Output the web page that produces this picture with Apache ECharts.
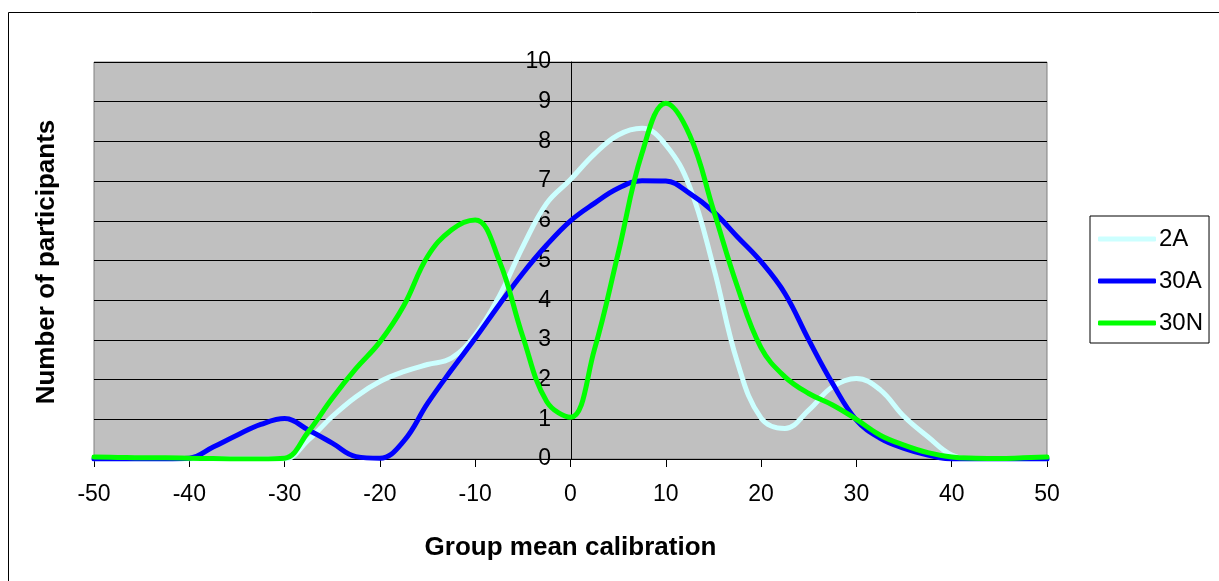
<!DOCTYPE html>
<html>
<head>
<meta charset="utf-8">
<script src="https://cdn.jsdelivr.net/npm/echarts@6/dist/echarts.min.js"></script>
<style>html,body{margin:0;padding:0;background:#fff}#c{width:1219px;height:581px}</style>
</head>
<body>
<div id="c"></div>
<script>
const calibration = [-50,-47.5,-45,-42.5,-40,-37.5,-35,-32.5,-30,-27.5,-25,-22.5,-20,-17.5,-15,-12.5,-10,-7.5,-5,-2.5,0,2.5,5,7.5,10,12.5,15,17.5,20,22.5,25,27.5,30,32.5,35,37.5,40,42.5,45,47.5,50];
const s2A  = [0,0,0,0,0,0,0,0,0,0.48,1.07,1.57,1.95,2.2,2.38,2.54,3.12,4.09,5.35,6.44,7.04,7.68,8.16,8.33,7.91,6.86,4.84,2.45,1.03,0.77,1.23,1.82,2.03,1.74,1.07,0.56,0.1,0,0,0,0];
const s30A = [0,0,0,0,0.02,0.3,0.6,0.87,1.02,0.73,0.4,0.06,0.02,0.45,1.4,2.24,3.04,3.88,4.68,5.39,6.0,6.44,6.82,7.01,7.0,6.69,6.23,5.6,4.97,4.17,3.0,1.9,0.98,0.52,0.27,0.1,0,0,0,0,0];
const s30N = [0.05,0.04,0.03,0.03,0.02,0.01,0,0,0.02,0.69,1.53,2.28,2.95,3.86,5.1,5.77,6.02,5.01,3.08,1.45,1.05,2.75,5.18,7.7,8.96,8.16,6.27,4.35,2.8,2.07,1.65,1.36,1.0,0.6,0.35,0.16,0.05,0.02,0.01,0.03,0.05];
const seriesNames = ['2A','30A','30N'];
const seriesColors = ['#CCFFFF','#0000FF','#00FF00'];
const seriesValues = [s2A, s30A, s30N];

const chart = echarts.init(document.getElementById('c'), null, {renderer:'canvas'});
const font = 'Liberation Sans, Arial, sans-serif';
chart.setOption({
  animation: false,
  backgroundColor: '#fff',
  graphic: [
    {type: 'rect', left: 6, top: 10, z: -10,
     shape: {x: 0, y: 0, width: 1211, height: 569},
     style: {fill: 'none', stroke: '#000', lineWidth: 1}},
    {type: 'text', x: 47, y: 262, rotation: Math.PI/2,
     style: {text: 'Number of participants', font: 'bold 26px ' + font, fill: '#000', align: 'center', verticalAlign: 'middle'}}
  ],
  grid: {left: 94, right: 172, top: 62, bottom: 122, show: true, backgroundColor: '#C0C0C0', borderColor: '#808080', borderWidth: 1},
  legend: {
    orient: 'vertical', left: 1090, top: 216,
    data: seriesNames,
    itemWidth: 58, itemHeight: 5, itemGap: 18,
    icon: 'roundRect',
    padding: [11, 6, 8, 8],
    borderColor: '#000', borderWidth: 1, backgroundColor: '#fff',
    textStyle: {fontFamily: font, fontSize: 24, color: '#000', padding: [0, 0, 0, -2]}
  },
  xAxis: {
    type: 'value', min: -50, max: 50, interval: 10,
    name: 'Group mean calibration', nameLocation: 'middle', nameGap: 76,
    nameTextStyle: {fontFamily: font, fontSize: 26, fontWeight: 'bold', color: '#000'},
    axisLine: {show: true, onZero: false, lineStyle: {color: '#000', width: 1}},
    axisTick: {show: true, length: 8, inside: false, lineStyle: {color: '#000'}},
    axisLabel: {fontFamily: font, fontSize: 23, color: '#000', margin: 24},
    splitLine: {show: false}
  },
  yAxis: {
    type: 'value', min: 0, max: 10, interval: 1,
    position: 'left', offset: -477,
    axisLine: {show: true, onZero: false, lineStyle: {color: '#000', width: 1}},
    axisTick: {show: true, length: 8, inside: false, lineStyle: {color: '#000'}},
    axisLabel: {fontFamily: font, fontSize: 23, color: '#000', margin: 20},
    splitLine: {show: true, lineStyle: {color: '#000', width: 1}}
  },
  series: seriesNames.map((n, i) => ({
    name: n, type: 'line', smooth: 0.4, symbol: 'none',
    data: calibration.map((x, j) => [x, seriesValues[i][j]]),
    lineStyle: {color: seriesColors[i], width: 5, cap: 'round', join: 'round'},
    itemStyle: {color: seriesColors[i]}
  }))
});
</script>
</body>
</html>
